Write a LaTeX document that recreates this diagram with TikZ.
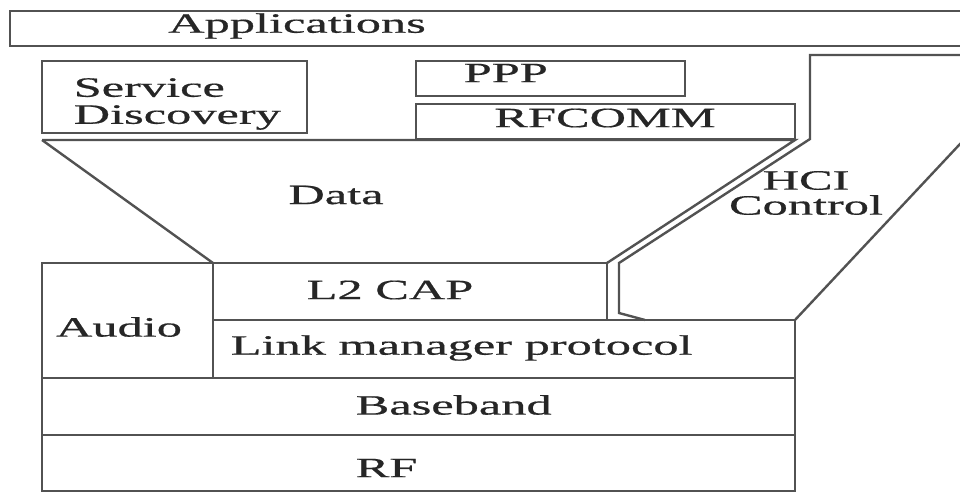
\documentclass[tikz,border=0pt]{standalone}
\usepackage{fontspec}
\setmainfont{Liberation Serif}
\newfontfamily\stackfont[FakeBold=0.5]{Liberation Serif}
\begin{document}
\begin{tikzpicture}[x=0.5pt,y=-0.5pt,
  edge/.style={draw=black!68, line width=1.2pt, line join=miter},
  lbl/.style={font=\stackfont\fontsize{14}{16}\selectfont, text=black!85, xscale=1.8, inner sep=0pt}]
\useasboundingbox (0,0) rectangle (960,493);
\clip (0,0) rectangle (960,493);

% top layer
\draw[edge] (10,11) rectangle (975,46);
\draw[edge] (42,61) rectangle (307,133);
\draw[edge] (416,61) rectangle (685,96);
\draw[edge] (416,104) rectangle (795,139);

% data funnel
\draw[edge] (42,140) -- (795,140) -- (607,263);
\draw[edge] (42,140) -- (213,263);

% HCI control channel
\draw[edge] (645,320) -- (619,313) -- (619,263) -- (810,139) -- (810,55) -- (975,55) -- (975,128) -- (795,320);

% lower stack
\draw[edge] (42,263) rectangle (213,378);
\draw[edge] (213,263) rectangle (607,320);
\draw[edge] (213,320) rectangle (795,378);
\draw[edge] (42,378) rectangle (795,435);
\draw[edge] (42,435) rectangle (795,491);

% labels
\node[lbl] (apps) at (297,26) {Applications};
\node[lbl, anchor=west, align=left, font=\stackfont\fontsize{14}{13.5}\selectfont] (sd) at (73,104) {Service\\Discovery};
\node[lbl, anchor=west] (ppp) at (463,73) {PPP};
\node[lbl] (rfcomm) at (605,118) {RFCOMM};
\node[lbl] (data) at (336,195) {Data};
\node[lbl, align=center, font=\stackfont\fontsize{14}{12.5}\selectfont] (hci) at (806,193) {HCI\\Control};
\node[lbl] (l2cap) at (390,290) {L2 CAP};
\node[lbl] (audio) at (119,327) {Audio};
\node[lbl, anchor=west] (lmp) at (230,348) {Link manager protocol};
\node[lbl, anchor=west] (bb) at (355,405) {Baseband};
\node[lbl, anchor=west] (rf) at (355,468) {RF};
\end{tikzpicture}
\end{document}
